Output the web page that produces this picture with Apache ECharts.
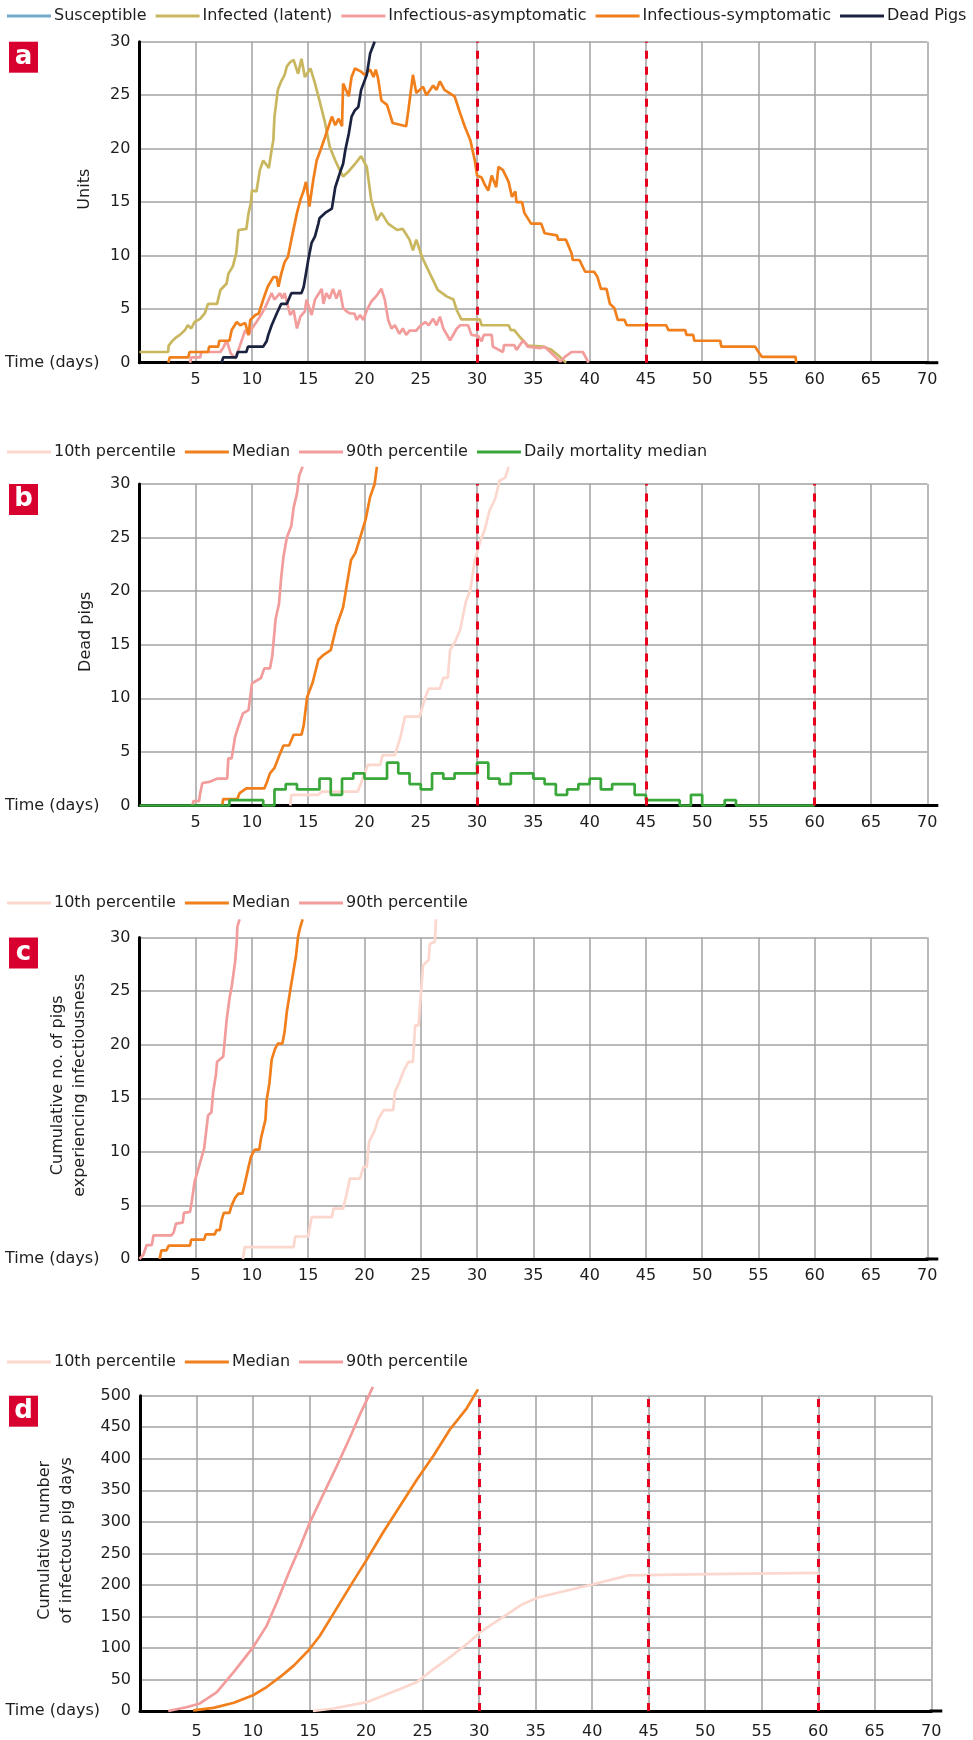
<!DOCTYPE html>
<html><head><meta charset="utf-8">
<script src="https://cdn.jsdelivr.net/npm/echarts/dist/echarts.min.js"></script>
<style>html,body{margin:0;padding:0;background:#fff}#c{width:973px;height:1740px}</style>
</head><body><div id="c"></div><script>
// ---------- DATA (x = time in days, y = value) ----------
const panelLetters = ['a', 'b', 'c', 'd'];
const xLabelEvery = 5;

// Panel a
const aSusceptible = [];
const aLatent = [[0,1],[2.55,1],[2.6,1.6],[2.9,2],[3.3,2.4],[3.6,2.6],[4.05,3.05],[4.3,3.5],[4.6,3.2],[4.9,3.8],[5.4,4.1],[5.8,4.6],[6.1,5.5],[6.9,5.5],[7.2,6.8],[7.75,7.4],[7.9,8.3],[8.3,9],[8.6,10.2],[8.8,12.4],[9.5,12.5],[9.7,14],[9.9,14.9],[10.0,16.1],[10.4,16],[10.7,18],[11.0,18.9],[11.5,18.2],[11.75,19.9],[11.9,20.8],[12.0,23],[12.3,25.5],[12.6,26.3],[12.9,26.9],[13.1,27.7],[13.4,28.1],[13.7,28.3],[14.1,27],[14.4,28.4],[14.7,26.7],[15.2,27.5],[15.6,26.1],[16.0,24.5],[16.5,22.4],[16.9,20.2],[17.4,18.9],[17.8,18],[18.1,17.4],[18.6,17.9],[19.1,18.5],[19.7,19.3],[20.2,18.3],[20.6,15.2],[21.1,13.3],[21.5,14],[22.1,13],[22.9,12.4],[23.4,12.5],[24.0,11.5],[24.3,10.5],[24.6,11.5],[25.1,9.9],[25.5,9],[26.1,7.7],[26.5,6.8],[27.3,6.2],[27.9,5.9],[28.2,4.9],[28.6,4.05],[30.25,4.05],[30.4,3.5],[32.8,3.5],[33.0,3.05],[33.3,3.05],[33.8,2.4],[34.5,1.6],[35.9,1.5],[36.6,1.2],[37.2,0.7],[37.8,0.1],[37.9,0]];
const aAsymptomatic = [[4.5,0],[4.6,0.5],[5.4,0.5],[5.5,1],[7.2,1],[7.5,1.5],[7.75,2.1],[8.1,0.9],[8.5,0.4],[8.9,1.5],[9.4,3.05],[9.7,2.6],[10.0,3.2],[10.4,3.8],[10.7,4.3],[11.15,5.1],[11.75,6.5],[12.0,5.9],[12.5,6.5],[12.7,6.0],[12.9,6.5],[13.4,4.45],[13.7,4.9],[14.0,3.2],[14.3,4.3],[14.7,4.8],[14.85,5.9],[15.3,4.45],[15.6,5.9],[16.2,6.9],[16.35,5.5],[16.6,6.5],[16.9,6.0],[17.2,6.9],[17.5,6.0],[17.8,6.8],[18.1,5.1],[18.4,4.8],[18.7,4.6],[19.1,4.6],[19.3,4.0],[19.6,4.45],[19.9,4.0],[20.2,4.9],[20.6,5.7],[21.1,6.3],[21.5,6.9],[21.8,5.9],[22.1,4.0],[22.4,3.2],[22.7,3.5],[23.1,2.7],[23.4,3.2],[23.7,2.6],[24.0,3.0],[24.6,3.0],[24.9,3.4],[25.4,3.8],[25.7,3.5],[26.1,4.1],[26.4,3.5],[26.7,4.3],[27.0,3.2],[27.6,2.1],[28.2,3.2],[28.5,3.5],[29.2,3.5],[29.5,2.6],[30.1,2.5],[30.4,2.0],[30.6,2.6],[31.3,2.6],[31.4,1.5],[32.3,1.0],[32.4,1.65],[33.3,1.65],[33.5,1.2],[34.1,2.1],[34.5,1.5],[35.6,1.35],[36.0,1.5],[36.6,0.9],[37.1,0.4],[37.4,0.1],[37.8,0.55],[38.4,1.0],[39.4,1.0],[39.9,0]];
const aSymptomatic = [[2.57,0],[2.7,0.5],[4.35,0.5],[4.45,1.0],[6.1,1.0],[6.2,1.5],[7.0,1.5],[7.1,2.05],[8.0,2.05],[8.2,3.05],[8.65,3.8],[8.95,3.5],[9.4,3.7],[9.7,2.6],[9.85,4.0],[10.3,4.45],[10.6,4.6],[11.0,5.9],[11.4,7.1],[11.9,8.0],[12.2,8.0],[12.35,7.1],[12.6,8.3],[12.9,9.4],[13.2,9.9],[13.5,11.5],[14.0,14.0],[14.3,15.2],[14.6,16.1],[14.8,16.9],[15.0,15.5],[15.1,14.6],[15.45,17.1],[15.75,18.9],[16.1,19.9],[16.5,21.1],[17.1,23.0],[17.4,22.2],[17.7,22.8],[18.0,22.1],[18.1,26.1],[18.6,24.9],[18.85,26.7],[19.15,27.5],[19.7,27.2],[20.0,26.9],[20.5,27.4],[20.8,26.7],[21.0,27.4],[21.2,26.6],[21.5,24.5],[22.0,24.1],[22.5,22.4],[23.7,22.1],[23.9,23.6],[24.3,26.9],[24.6,25.2],[25.2,25.8],[25.5,25.0],[26.1,25.9],[26.4,25.5],[26.7,26.3],[27.1,25.5],[28.0,24.9],[28.5,23.3],[28.9,22.1],[29.4,20.8],[29.8,18.9],[30.0,17.5],[30.4,17.3],[30.7,16.6],[31.0,16.1],[31.3,17.5],[31.7,16.4],[31.9,18.3],[32.3,18.0],[32.8,16.9],[33.1,15.5],[33.4,16.0],[33.5,15.0],[34.0,15.0],[34.2,14.0],[34.8,13.0],[35.7,13.0],[36.0,12.1],[37.1,11.9],[37.2,11.5],[37.9,11.5],[38.4,10.2],[38.5,9.6],[39.1,9.6],[39.6,8.5],[40.4,8.5],[40.7,8.0],[41.0,6.9],[41.5,6.9],[41.8,5.5],[42.2,5.1],[42.5,4.0],[43.1,4.0],[43.3,3.5],[46.8,3.5],[47.0,3.05],[48.5,3.05],[48.6,2.6],[49.2,2.6],[49.3,2.05],[51.6,2.05],[51.7,1.5],[54.7,1.5],[55.0,1.0],[55.3,0.55],[58.3,0.55],[58.35,0]];
const aDeadPigs = [[7.3,0],[7.45,0.5],[8.6,0.5],[8.75,1.0],[9.5,1.0],[9.65,1.5],[11.0,1.5],[11.3,2.0],[11.45,2.6],[11.75,3.5],[12.2,4.6],[12.6,5.5],[13.1,5.5],[13.5,6.5],[14.4,6.5],[14.6,7.1],[15.0,9.6],[15.3,11.2],[15.6,11.8],[15.9,13.0],[16.0,13.5],[16.5,14.0],[17.1,14.4],[17.4,16.4],[17.8,17.7],[18.1,18.6],[18.3,19.9],[18.6,21.4],[18.85,23.0],[19.15,23.6],[19.45,23.9],[19.7,25.5],[20.2,26.9],[20.5,28.9],[20.9,30.0]];
const aCutoffs = [30, 45];

// Panel b
const b10th = [[13.4,0],[13.5,1.0],[15.9,1.0],[16.2,1.3],[19.4,1.3],[19.7,2.1],[20.3,3.8],[21.4,3.8],[21.6,4.7],[22.7,4.7],[23.2,6.4],[23.6,8.3],[24.9,8.3],[25.4,10.1],[25.7,10.9],[26.7,10.9],[27.0,11.9],[27.4,11.9],[27.6,14.5],[28.1,15.4],[28.5,16.4],[29.0,19.0],[29.4,20.1],[29.8,22.9],[30.3,24.7],[30.7,25.8],[31.1,27.5],[31.6,28.6],[32.0,30.3],[32.5,30.6],[32.8,31.6]];
const bMedian = [[7.35,0],[7.45,0.6],[8.7,0.6],[8.9,1.15],[9.5,1.6],[11.1,1.6],[11.3,2.1],[11.6,3.0],[12.0,3.5],[12.4,4.6],[12.8,5.6],[13.3,5.6],[13.7,6.6],[14.4,6.6],[14.6,7.5],[14.9,10.1],[15.4,11.5],[15.9,13.6],[16.3,14.0],[17.0,14.5],[17.5,16.7],[18.1,18.5],[18.4,20.4],[18.8,22.9],[19.2,23.6],[19.7,25.3],[20.1,26.7],[20.5,28.8],[20.9,30.0],[21.1,31.6]];
const b90th = [[4.7,0],[4.8,0.4],[5.3,0.4],[5.4,1.15],[5.6,2.1],[6.2,2.2],[6.9,2.5],[7.8,2.5],[7.9,4.4],[8.2,4.4],[8.5,6.4],[8.8,7.4],[9.2,8.6],[9.7,8.9],[10.0,11.4],[10.8,11.9],[11.1,12.8],[11.6,12.8],[11.8,13.9],[12.1,17.4],[12.4,18.8],[12.6,21.3],[12.8,23.2],[13.1,25.0],[13.5,26.1],[13.7,27.8],[14.0,29.1],[14.2,30.8],[14.5,31.6]];
const bDailyMortality = [[0,0],[8,0.5],[11,0],[12,1.5],[13,2],[14,1.5],[16,2.5],[17,1],[18,2.5],[19,3],[20,2.5],[22,4],[23,3],[24,2],[25,1.5],[26,3],[27,2.5],[28,3],[30,4],[31,2.5],[32,2],[33,3],[35,2.5],[36,2],[37,1],[38,1.5],[39,2],[40,2.5],[41,1.5],[42,2],[44,1],[45,0.5],[48,0],[49,1],[50,0],[52,0.5],[53,0],[60,0]];
const bCutoffs = [30, 45, 60];

// Panel c
const c10th = [[9.2,0],[9.35,1.1],[13.7,1.1],[13.85,2.1],[15.0,2.1],[15.15,3.0],[15.3,3.9],[17.1,3.9],[17.25,4.7],[18.1,4.7],[18.35,5.8],[18.7,7.5],[19.6,7.5],[19.9,8.6],[20.2,8.6],[20.4,10.9],[20.9,12.0],[21.2,13.0],[21.7,13.9],[22.55,13.9],[22.7,15.6],[23.1,16.5],[23.45,17.5],[23.9,18.4],[24.3,18.4],[24.5,21.8],[24.8,21.8],[25.2,27.4],[25.7,27.9],[25.8,29.4],[26.25,29.6],[26.35,31.7]];
const cMedian = [[1.8,0],[1.95,0.8],[2.4,0.8],[2.6,1.25],[4.5,1.25],[4.6,1.8],[5.75,1.8],[5.9,2.3],[6.7,2.3],[6.85,2.7],[7.15,2.7],[7.3,3.6],[7.5,4.3],[8.0,4.3],[8.2,5.0],[8.5,5.7],[8.8,6.1],[9.15,6.1],[9.4,7.2],[9.7,8.6],[9.9,9.5],[10.25,10.2],[10.65,10.2],[10.8,11.25],[11.2,13.0],[11.3,14.8],[11.55,16.4],[11.75,18.6],[12.05,19.6],[12.3,20.1],[12.7,20.1],[12.9,21.2],[13.1,23.1],[13.5,25.7],[13.9,28.2],[14.1,30.1],[14.3,31.0],[14.5,31.7]];
const c90th = [[0,0],[0.35,0.4],[0.65,1.3],[1.1,1.3],[1.25,2.2],[2.85,2.2],[3.05,2.5],[3.25,3.3],[3.85,3.4],[3.95,4.3],[4.5,4.4],[4.65,5.35],[4.9,7.2],[5.2,8.3],[5.45,9.2],[5.75,10.3],[6.1,13.4],[6.4,13.7],[6.55,15.6],[6.8,17.2],[6.9,18.4],[7.45,18.9],[7.75,22.3],[8.0,24.3],[8.2,25.4],[8.5,27.7],[8.65,29.6],[8.7,31.0],[8.9,31.7]];

// Panel d
const d10th = [[15.3,0],[17.1,4],[20.06,14],[23.0,35],[24.5,46],[26.0,67],[27.4,85],[28.9,106],[30.1,125],[33.8,169],[35.2,180],[40.1,201],[43.2,215],[50.2,217],[60.1,219]];
const dMedian = [[4.7,1],[6.5,5],[8.3,13],[10.0,25],[11.2,38],[12.4,54],[13.6,72],[14.9,96],[15.9,119],[17.1,154],[18.6,198],[20.06,240],[21.5,283],[23.0,325],[24.5,367],[26.0,406],[27.4,446],[28.9,480],[29.9,510]];
const d90th = [[2.5,0],[4.1,6],[5.3,12],[6.8,30],[8.3,62],[10.0,101],[11.2,135],[12.1,172],[13.3,225],[14.2,262],[15.0,298],[16.2,343],[17.4,388],[18.6,435],[19.5,472],[20.06,493],[20.6,514]];
const dCutoffs = [30, 45, 60];

// ---------- STYLE ----------
const FONT = 'DejaVu Sans';
const TXT = '#1e1e1e';
const GRIDC = '#a2a2a2';
const C = {
  susceptible: '#73a9c9', latent: '#c9b75f', asym: '#f29c9c', sym: '#f07f1c', dead: '#1b2240',
  p10: '#fcd7cd', median: '#f07f1c', p90: '#f29c9c', daily: '#3aa73a', cut: '#e6001e', tag: '#d8002f'
};

const chart = echarts.init(document.getElementById('c'), null, {renderer: 'canvas'});

const grids = [
  {left: 139.4, right: 45.7, top: 41.7, height: 321},
  {left: 139.4, right: 45.7, top: 484, height: 321.5},
  {left: 139.4, right: 45.7, top: 937.5, height: 321.5},
  {left: 140, right: 41.7, top: 1395.7, height: 316.6}
];

function xAx(i, margin) {
  return {
    type: 'value', gridIndex: i, min: 0, max: 70, interval: xLabelEvery,
    name: 'Time (days)', nameLocation: 'start', nameGap: 40,
    nameTextStyle: {fontFamily: FONT, fontSize: 16, color: TXT, verticalAlign: 'middle', padding: [0, 0, 4, 0]},
    axisLine: {show: true, onZero: false, lineStyle: {color: '#000', width: 3}},
    axisTick: {show: false},
    axisLabel: {fontFamily: FONT, fontSize: 16, color: TXT, margin: margin, showMinLabel: false,
      formatter: v => (v === 0 ? '' : String(v))},
    splitLine: {show: true, lineStyle: {color: GRIDC, width: 1.5}}
  };
}
function yAx(i, max, interval, name, gap) {
  return {
    type: 'value', gridIndex: i, min: 0, max: max, interval: interval,
    name: name, nameLocation: 'middle', nameGap: gap,
    nameTextStyle: {fontFamily: FONT, fontSize: 16, color: TXT, lineHeight: 22, padding: [0, 0, 0, 26]},
    axisLine: {show: true, lineStyle: {color: '#000', width: 3}},
    axisTick: {show: false},
    axisLabel: {fontFamily: FONT, fontSize: 16, color: TXT, margin: 9},
    splitLine: {show: true, lineStyle: {color: GRIDC, width: 1.5}}
  };
}
function line(name, data, color, gi, extra) {
  return Object.assign({
    type: 'line', name: name, data: data, xAxisIndex: gi, yAxisIndex: gi,
    showSymbol: false, symbol: 'none', clip: false, animation: false,
    lineStyle: {color: color, width: 2.7}, itemStyle: {color: color}
  }, extra || {});
}
function cuts(vals) {
  return {
    silent: true, symbol: ['none', 'none'], label: {show: false}, animation: false,
    lineStyle: {color: C.cut, type: [8, 8], width: 3},
    emphasis: {disabled: true},
    data: vals.map(v => ({xAxis: v}))
  };
}
function legend(top, names) {
  return {
    top: top, left: 7, width: 990, padding: 0, itemWidth: 44, itemHeight: 3, itemGap: 9, icon: 'rect',
    selectedMode: false, data: names,
    textStyle: {fontFamily: FONT, fontSize: 16, color: TXT, padding: [0, 0, 0, -2]}
  };
}

const option = {
  animation: false,
  backgroundColor: '#fff',
  grid: grids,
  legend: [
    legend(8, ['Susceptible', 'Infected (latent)', 'Infectious-asymptomatic', 'Infectious-symptomatic', 'Dead Pigs']),
    legend(444, ['10th percentile', 'Median', '90th percentile', 'Daily mortality median']),
    legend(895, ['10th percentile', 'Median', '90th percentile']),
    legend(1354, ['10th percentile', 'Median', '90th percentile'])
  ],
  xAxis: [xAx(0, 9), xAx(1, 9), xAx(2, 9), xAx(3, 13)],
  yAxis: [
    yAx(0, 30, 5, 'Units', 44),
    yAx(1, 30, 5, 'Dead pigs', 43),
    yAx(2, 30, 5, 'Cumulative no. of pigs\nexperiencing infectiousness', 49),
    yAx(3, 500, 50, 'Cumulative number\nof infectous pig days', 62)
  ],
  series: [
    line('Susceptible', aSusceptible, C.susceptible, 0, {markLine: cuts(aCutoffs)}),
    line('Infected (latent)', aLatent, C.latent, 0),
    line('Infectious-asymptomatic', aAsymptomatic, C.asym, 0),
    line('Infectious-symptomatic', aSymptomatic, C.sym, 0),
    line('Dead Pigs', aDeadPigs, C.dead, 0),

    line('10th percentile', b10th, C.p10, 1, {markLine: cuts(bCutoffs)}),
    line('Median', bMedian, C.median, 1),
    line('90th percentile', b90th, C.p90, 1),
    line('Daily mortality median', bDailyMortality, C.daily, 1, {step: 'end'}),

    line('10th percentile', c10th, C.p10, 2),
    line('Median', cMedian, C.median, 2),
    line('90th percentile', c90th, C.p90, 2),

    line('10th percentile', d10th, C.p10, 3, {markLine: cuts(dCutoffs)}),
    line('Median', dMedian, C.median, 3),
    line('90th percentile', d90th, C.p90, 3)
  ]
};
chart.setOption(option);

// panel tags and axis-line overhang, placed from the axes
const yMaxes = [30, 30, 30, 500];
const g = [];
for (let i = 0; i < 4; i++) {
  const top = chart.convertToPixel({gridIndex: i}, [0, yMaxes[i]]);
  const end = chart.convertToPixel({gridIndex: i}, [70, 0]);
  g.push({type: 'rect', shape: {x: 9, y: top[1], width: 29, height: 31}, style: {fill: C.tag}});
  g.push({type: 'text', x: 23.5, y: top[1] + 15.5,
    style: {text: panelLetters[i], textAlign: 'center', textVerticalAlign: 'middle', align: 'center', verticalAlign: 'middle',
      fill: '#fff', font: 'bold 26px "DejaVu Sans"'}});
  g.push({type: 'line', shape: {x1: end[0] - 2, y1: end[1], x2: end[0] + 11, y2: end[1]},
    style: {stroke: '#000', lineWidth: 3}});
}
chart.setOption({graphic: g});
</script></body></html>
